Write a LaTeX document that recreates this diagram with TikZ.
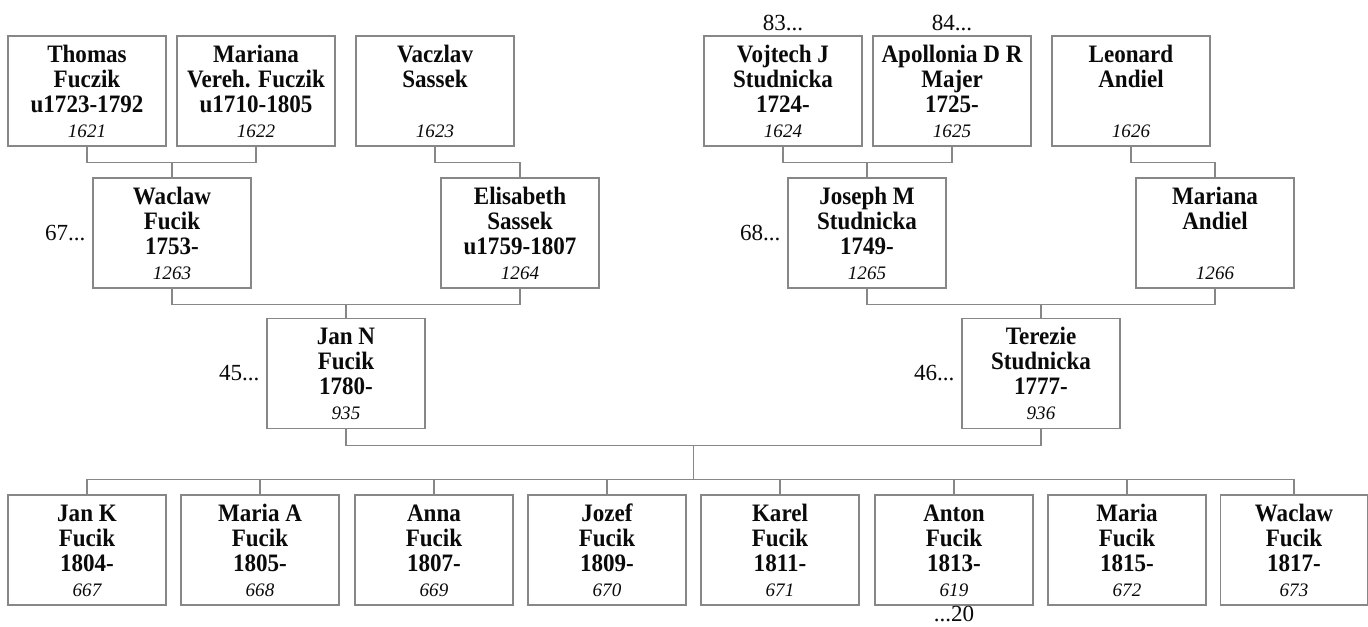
\documentclass[tikz,border=0pt]{standalone}
\usepackage{fontspec}
\setmainfont{Liberation Serif}[BoldFeatures={FakeStretch=0.92}]
\usepackage{tikz}
\usetikzlibrary{positioning, calc}
\definecolor{boxgray}{RGB}{135,135,135}
\definecolor{inkdark}{RGB}{10,10,10}
\newcommand{\lift}{\rule[-1.2pt]{0pt}{15.2pt}}
\newcommand{\numfont}{\fontsize{14.3}{18.75}\selectfont\mdseries\itshape}
\newcommand{\who}[4]{#1\lift\\#2\lift\\#3\lift\\{\numfont #4\lift}}
\tikzset{
  person/.style={rectangle, draw=boxgray, fill=white, line width=0.9pt,
    minimum width=118.5pt, minimum height=82.5pt, inner sep=2pt,
    align=center, text=inkdark, font=\fontsize{18.8}{18.75}\selectfont\bfseries},
  link/.style={draw=boxgray, line width=0.9pt},
  tag/.style={inner sep=0pt, text=inkdark, font=\fontsize{17.3}{19}\selectfont}
}
\begin{document}
\begin{tikzpicture}[x=0.75pt, y=-0.75pt]
  \useasboundingbox (0,0) rectangle (1368,626);

  % great-grandparents
  \node [person] (thomas) at (87,91) {\who{Thomas}{Fuczik}{u1723-1792}{1621}};
  \node [person] (mariana) at (256,91) {\who{Mariana}{Vereh. Fuczik}{u1710-1805}{1622}};
  \node [person] (vaczlav) at (435,91) {\who{Vaczlav}{Sassek}{}{1623}};
  \node [person] (vojtech) at (783,91) {\who{Vojtech J}{Studnicka}{1724-}{1624}};
  \node [person] (apollonia) at (952,91) {\who{Apollonia D R}{Majer}{1725-}{1625}};
  \node [person] (leonard) at (1131,91) {\who{Leonard}{Andiel}{}{1626}};

  % grandparents
  \node [person] (waclaw) at (172,233) {\who{Waclaw}{Fucik}{1753-}{1263}};
  \node [person] (elisabeth) at (520,233) {\who{Elisabeth}{Sassek}{u1759-1807}{1264}};
  \node [person] (joseph) at (867,233) {\who{Joseph M}{Studnicka}{1749-}{1265}};
  \node [person] (mariana2) at (1215,233) {\who{Mariana}{Andiel}{}{1266}};

  % parents
  \node [person] (jan) at (346,373.5) {\who{Jan N}{Fucik}{1780-}{935}};
  \node [person] (terezie) at (1041,373.5) {\who{Terezie}{Studnicka}{1777-}{936}};

  % children
  \node [person] (jank) at (87,550) {\who{Jan K}{Fucik}{1804-}{667}};
  \node [person] (mariaa) at (260,550) {\who{Maria A}{Fucik}{1805-}{668}};
  \node [person] (anna) at (434,550) {\who{Anna}{Fucik}{1807-}{669}};
  \node [person] (jozef) at (607,550) {\who{Jozef}{Fucik}{1809-}{670}};
  \node [person] (karel) at (780,550) {\who{Karel}{Fucik}{1811-}{671}};
  \node [person] (anton) at (954,550) {\who{Anton}{Fucik}{1813-}{619}};
  \node [person] (maria) at (1127,550) {\who{Maria}{Fucik}{1815-}{672}};
  \node [person, minimum width=110.25pt] (waclawjr) at (1294,550) {\who{Waclaw}{Fucik}{1817-}{673}};

  % continuation marks
  \node [tag, above=3pt of vojtech] (more83) {83...};
  \node [tag, above=3pt of apollonia] (more84) {84...};
  \node [tag, left=5pt of waclaw] (more67) {67...};
  \node [tag, left=5pt of joseph] (more68) {68...};
  \node [tag, left=5pt of jan] (more45) {45...};
  \node [tag, left=5pt of terezie] (more46) {46...};
  \node [tag, below=0pt of anton] (more20) {...20};

  % couples to their child
  \draw [link] (thomas.south) -- ++(0,16) -| (waclaw.north);
  \draw [link] (mariana.south) -- ++(0,16) -| (waclaw.north);
  \draw [link] (vaczlav.south) -- ++(0,16) -| (elisabeth.north);
  \draw [link] (vojtech.south) -- ++(0,16) -| (joseph.north);
  \draw [link] (apollonia.south) -- ++(0,16) -| (joseph.north);
  \draw [link] (leonard.south) -- ++(0,16) -| (mariana2.north);
  \draw [link] (waclaw.south) -- ++(0,16) -| (jan.north);
  \draw [link] (elisabeth.south) -- ++(0,16) -| (jan.north);
  \draw [link] (joseph.south) -- ++(0,16) -| (terezie.north);
  \draw [link] (mariana2.south) -- ++(0,16) -| (terezie.north);

  % parents to the children
  \coordinate (family) at ($(jan.south)!0.5!(terezie.south)+(0,16)$);
  \coordinate (kids) at ($(family)+(0,34)$);
  \draw [link] (jan.south) |- (family) -| (terezie.south);
  \draw [link] (family) -- (kids);
  \draw [link] (kids) -| (jank.north);
  \draw [link] (kids) -| (mariaa.north);
  \draw [link] (kids) -| (anna.north);
  \draw [link] (kids) -| (jozef.north);
  \draw [link] (kids) -| (karel.north);
  \draw [link] (kids) -| (anton.north);
  \draw [link] (kids) -| (maria.north);
  \draw [link] (kids) -| (waclawjr.north);
\end{tikzpicture}
\end{document}
